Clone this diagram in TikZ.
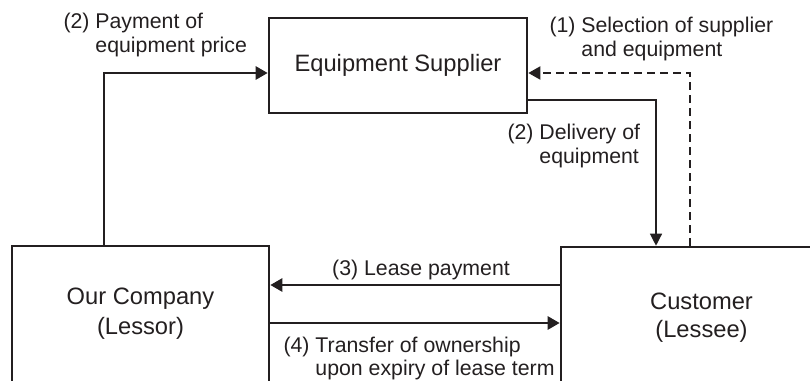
\documentclass[tikz,border=0pt]{standalone}
\usepackage{fontspec}
\setmainfont{Liberation Sans}
\usetikzlibrary{arrows.meta}
\definecolor{ink}{HTML}{231F20}
\begin{document}
\begin{tikzpicture}[x=1pt,y=-1pt,
  box/.style={draw=ink, line width=2.6pt, inner sep=0pt, text=ink, align=center},
  flow/.style={draw=ink, line width=2.6pt, -{Triangle[length=12pt,width=13pt]}},
  thinflow/.style={draw=ink, line width=1.3pt, -{Triangle[length=12pt,width=12pt]}},
  dashflow/.style={draw=ink, line width=2pt, dash pattern=on 8pt off 5pt, -{Triangle[length=12pt,width=13pt]}},
  lbl/.style={anchor=north west, inner sep=0pt, text=ink, font=\fontsize{21.3}{24}\selectfont, align=left},
]
\path[use as bounding box, clip] (0,0) rectangle (810,380);

% the three parties
\node[box, minimum width=258pt, minimum height=95pt, font=\fontsize{23.7}{30}\selectfont]
  (supplier) at (398,65.5) {Equipment Supplier};
\node[box, minimum width=257pt, minimum height=136pt, font=\fontsize{23.7}{30}\selectfont]
  (ourco) at (140.5,314) {Our Company\\(Lessor)};
\node[box, minimum width=281pt, minimum height=142pt, font=\fontsize{23.7}{28}\selectfont]
  (customer) at (701.5,318) {Customer\\(Lessee)};

% routing guides
\coordinate (payx) at (104,0);
\coordinate (selx) at (690,0);
\coordinate (delx) at (656,0);
\coordinate (uppery) at (0,73);
\coordinate (dely) at (0,100);
\coordinate (leasey) at (0,285);
\coordinate (transy) at (0,323);

% flows between the parties
\draw[flow] (ourco.north -| payx) |- (supplier.west |- uppery);
\draw[dashflow] (customer.north -| selx) |- (supplier.east |- uppery);
\draw[thinflow] (supplier.east |- dely) -| (customer.north -| delx);
\draw[flow] (customer.west |- leasey) -- (ourco.east |- leasey);
\draw[flow] (ourco.east |- transy) -- (customer.west |- transy);

% flow labels
\node[lbl] (lpay) at (63.3,12.4) {(2) Payment of\\\phantom{(2)}\ equipment price};
\node[lbl] (lsel) at (549.3,16.4) {(1) Selection of supplier\\\phantom{(1)}\ and equipment};
\node[lbl] (ldel) at (507.3,124) {(2) Delivery of\\\phantom{(2)}\ equipment};
\node[lbl, anchor=base] (llease) at (421,275) {(3) Lease payment};
\node[lbl, font=\fontsize{21.3}{23}\selectfont] (ltrans) at (283.3,336.5)
  {(4) Transfer of ownership\\\phantom{(4)}\ upon expiry of lease term};
\end{tikzpicture}
\end{document}
